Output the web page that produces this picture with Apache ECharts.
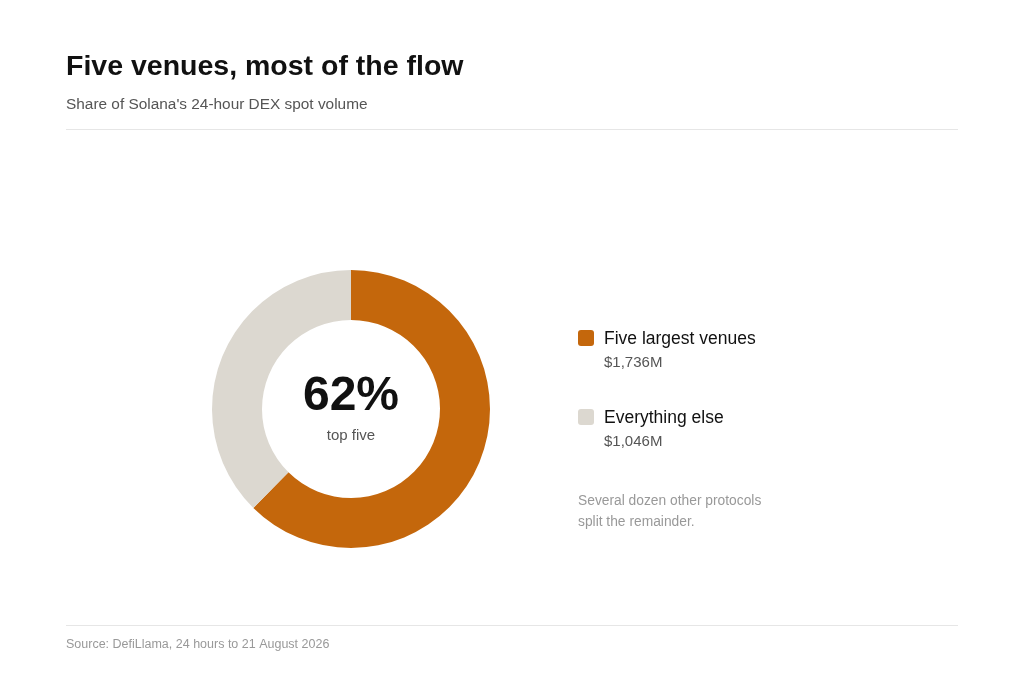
<!DOCTYPE html>
<html>
<head>
<meta charset="utf-8">
<script src="https://cdn.jsdelivr.net/npm/echarts@6/dist/echarts.min.js"></script>
<style>
html,body{margin:0;padding:0;background:#fff;}
#chart{width:1024px;height:683px;}
</style>
</head>
<body>
<div id="chart"></div>
<script>
const categories = ["Five largest venues", "Everything else"];
const values = [1736, 1046];
const valueLabels = ["$1,736M", "$1,046M"];
const colors = ["#C4670C", "#DCD8D0"];
const titleText = "Five venues, most of the flow";
const subtitleText = "Share of Solana's 24-hour DEX spot volume";
const centerSub = "top five";
const noteLines = ["Several dozen other protocols", "split the remainder."];
const sourceText = "Source: DefiLlama, 24 hours to 21 August 2026";

const total = values.reduce((a, b) => a + b, 0);
const share = Math.round(values[0] / total * 100) + "%";
const FONT = "'Liberation Sans', Arial, Helvetica, sans-serif";

const chart = echarts.init(document.getElementById('chart'), null, {renderer: 'canvas'});

function txt(x, y, text, font, fill, align) {
  return {type: 'text', x: x, y: y, style: {text: text, font: font, fill: fill, align: align || 'left', verticalAlign: 'middle'}};
}

const legendEls = [];
categories.forEach((c, i) => {
  const y0 = 330 + i * 79;
  legendEls.push({type: 'rect', x: 578, y: y0, shape: {width: 16, height: 16, r: 3}, style: {fill: colors[i]}});
  legendEls.push(txt(604, y0 + 9, c, "17.5px " + FONT, '#111'));
  legendEls.push(txt(604, y0 + 33, valueLabels[i], "15px " + FONT, '#555'));
});

chart.setOption({
  backgroundColor: '#fff',
  animation: false,
  series: [{
    type: 'pie',
    center: [351, 409],
    radius: [89, 139],
    startAngle: 90,
    clockwise: true,
    silent: true,
    label: {show: false},
    labelLine: {show: false},
    itemStyle: {borderWidth: 0},
    data: categories.map((c, i) => ({name: c, value: values[i], itemStyle: {color: colors[i]}}))
  }],
  graphic: [
    txt(66, 67.5, titleText, "bold 28.5px " + FONT, '#111'),
    txt(66, 105, subtitleText, "15.4px " + FONT, '#555'),
    {type: 'rect', x: 66, y: 129, shape: {width: 892, height: 1}, style: {fill: '#e6e6e6'}},
    txt(351, 397, share, "bold 48px " + FONT, '#111', 'center'),
    txt(351, 436, centerSub, "15px " + FONT, '#555', 'center'),
    ...legendEls,
    txt(578, 501.5, noteLines[0], "13.8px " + FONT, '#999'),
    txt(578, 522.5, noteLines[1], "13.8px " + FONT, '#999'),
    {type: 'rect', x: 66, y: 625, shape: {width: 892, height: 1}, style: {fill: '#e6e6e6'}},
    txt(66, 645, sourceText, "12.5px " + FONT, '#999')
  ]
});
</script>
</body>
</html>
